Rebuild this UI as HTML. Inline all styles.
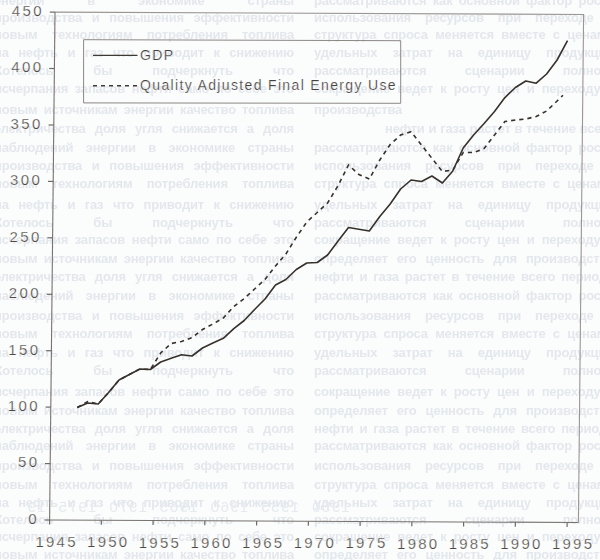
<!DOCTYPE html>
<html><head><meta charset="utf-8"><style>
html,body{margin:0;padding:0;background:#fbfcfc;}
body{width:600px;height:560px;overflow:hidden;position:relative;font-family:"Liberation Sans",sans-serif;}
svg{position:absolute;left:0;top:0;}
.mir{position:absolute;left:0px;top:498px;width:350px;font-size:15px;line-height:18px;letter-spacing:1.5px;color:#e6eaee;transform:scaleX(-1);white-space:nowrap;}
.r{position:absolute;height:18px;font-size:13px;line-height:18px;font-weight:bold;letter-spacing:-0.2px;color:#e4e8ed;overflow:hidden;filter:blur(0.5px);text-align-last:justify;text-align:justify;text-align-last:justify;}
.n{font-family:"Liberation Sans",sans-serif;font-size:15px;letter-spacing:2.4px;fill:#4d4843;stroke:#fbfcfc;stroke-width:0.25px;}
.m{font-family:"Liberation Sans",sans-serif;font-size:15px;letter-spacing:2.2px;fill:#4d4843;stroke:#fbfcfc;stroke-width:0.25px;}
.lg{font-family:"Liberation Sans",sans-serif;font-size:14px;letter-spacing:1.35px;fill:#46413c;stroke:#fbfcfc;stroke-width:0.2px;}
</style></head><body>
<div class="r" style="left:-6px;top:-8.1px;width:300px">энергии в экономике страны</div>
<div class="r" style="left:314px;top:-8.1px;width:300px">рассматриваются как основной фактор роста</div>
<div class="r" style="left:-6px;top:9.4px;width:300px">производства и повышения эффективности</div>
<div class="r" style="left:314px;top:9.4px;width:300px">использования ресурсов при переходе к</div>
<div class="r" style="left:-6px;top:26.4px;width:300px">новым технологиям потребления топлива</div>
<div class="r" style="left:314px;top:26.4px;width:300px">структура спроса меняется вместе с ценами</div>
<div class="r" style="left:-6px;top:43.9px;width:300px">на нефть и газ что приводит к снижению</div>
<div class="r" style="left:314px;top:43.9px;width:300px">удельных затрат на единицу продукции</div>
<div class="r" style="left:-6px;top:61.9px;width:300px">Хотелось бы подчеркнуть что</div>
<div class="r" style="left:314px;top:61.9px;width:300px">рассматриваются сценарии полного</div>
<div class="r" style="left:-6px;top:79.9px;width:300px">исчерпания запасов нефти само по себе это</div>
<div class="r" style="left:314px;top:79.9px;width:300px">сокращение ведет к росту цен и переходу к</div>
<div class="r" style="left:-6px;top:101.4px;width:300px">новым источникам энергии качество топлива</div>
<div class="r" style="left:314px;top:101.4px;width:116px">производства</div>
<div class="r" style="left:-6px;top:120.4px;width:300px">электричества доля угля снижается а доля</div>
<div class="r" style="left:385px;top:120.4px;width:229px">нефти и газа растет в течение всего периода</div>
<div class="r" style="left:-6px;top:138.6px;width:300px">наблюдений энергии в экономике страны</div>
<div class="r" style="left:314px;top:138.6px;width:300px">рассматриваются как основной фактор роста</div>
<div class="r" style="left:-6px;top:156.9px;width:300px">производства и повышения эффективности</div>
<div class="r" style="left:314px;top:156.9px;width:300px">использования ресурсов при переходе к</div>
<div class="r" style="left:-6px;top:174.9px;width:300px">новым технологиям потребления топлива</div>
<div class="r" style="left:314px;top:174.9px;width:300px">структура спроса меняется вместе с ценами</div>
<div class="r" style="left:-6px;top:195.9px;width:300px">на нефть и газ что приводит к снижению</div>
<div class="r" style="left:314px;top:195.9px;width:300px">удельных затрат на единицу продукции</div>
<div class="r" style="left:-6px;top:214.4px;width:300px">Хотелось бы подчеркнуть что</div>
<div class="r" style="left:314px;top:214.4px;width:300px">рассматриваются сценарии полного</div>
<div class="r" style="left:-6px;top:231.4px;width:300px">исчерпания запасов нефти само по себе это</div>
<div class="r" style="left:314px;top:231.4px;width:300px">сокращение ведет к росту цен и переходу к</div>
<div class="r" style="left:-6px;top:249.9px;width:300px">новым источникам энергии качество топлива</div>
<div class="r" style="left:314px;top:249.9px;width:300px">определяет его ценность для производства</div>
<div class="r" style="left:-6px;top:267.9px;width:300px">электричества доля угля снижается а доля</div>
<div class="r" style="left:314px;top:267.9px;width:300px">нефти и газа растет в течение всего периода</div>
<div class="r" style="left:-6px;top:287.2px;width:300px">наблюдений энергии в экономике страны</div>
<div class="r" style="left:314px;top:287.2px;width:300px">рассматриваются как основной фактор роста</div>
<div class="r" style="left:-6px;top:306.9px;width:300px">производства и повышения эффективности</div>
<div class="r" style="left:314px;top:306.9px;width:300px">использования ресурсов при переходе к</div>
<div class="r" style="left:-6px;top:324.9px;width:300px">новым технологиям потребления топлива</div>
<div class="r" style="left:314px;top:324.9px;width:300px">структура спроса меняется вместе с ценами</div>
<div class="r" style="left:-6px;top:344.4px;width:300px">на нефть и газ что приводит к снижению</div>
<div class="r" style="left:314px;top:344.4px;width:300px">удельных затрат на единицу продукции</div>
<div class="r" style="left:-6px;top:362.2px;width:300px">Хотелось бы подчеркнуть что</div>
<div class="r" style="left:314px;top:362.2px;width:300px">рассматриваются сценарии полного</div>
<div class="r" style="left:-6px;top:382.7px;width:300px">исчерпания запасов нефти само по себе это</div>
<div class="r" style="left:314px;top:382.7px;width:300px">сокращение ведет к росту цен и переходу к</div>
<div class="r" style="left:-6px;top:401.9px;width:300px">новым источникам энергии качество топлива</div>
<div class="r" style="left:314px;top:401.9px;width:300px">определяет его ценность для производства</div>
<div class="r" style="left:-6px;top:419.5px;width:300px">электричества доля угля снижается а доля</div>
<div class="r" style="left:314px;top:419.5px;width:300px">нефти и газа растет в течение всего периода</div>
<div class="r" style="left:-6px;top:437.2px;width:300px">наблюдений энергии в экономике страны</div>
<div class="r" style="left:314px;top:437.2px;width:300px">рассматриваются как основной фактор роста</div>
<div class="r" style="left:-6px;top:457.4px;width:300px">производства и повышения эффективности</div>
<div class="r" style="left:314px;top:457.4px;width:300px">использования ресурсов при переходе к</div>
<div class="r" style="left:-6px;top:475.9px;width:300px">новым технологиям потребления топлива</div>
<div class="r" style="left:314px;top:475.9px;width:300px">структура спроса меняется вместе с ценами</div>
<div class="r" style="left:-6px;top:494.4px;width:300px">на нефть и газ что приводит к снижению</div>
<div class="r" style="left:314px;top:494.4px;width:300px">удельных затрат на единицу продукции</div>
<div class="r" style="left:-6px;top:510.9px;width:300px">Хотелось бы подчеркнуть что</div>
<div class="r" style="left:314px;top:510.9px;width:300px">рассматриваются сценарии полного</div>
<div class="r" style="left:-6px;top:528.4px;width:300px">исчерпания запасов нефти само по себе это</div>
<div class="r" style="left:314px;top:528.4px;width:300px">сокращение ведет к росту цен и переходу к</div>
<div class="r" style="left:-6px;top:545.9px;width:300px">новым источникам энергии качество топлива</div>
<div class="r" style="left:314px;top:545.9px;width:300px">определяет его ценность для производства</div>
<div class="mir">1950&nbsp;&nbsp;1955&nbsp;&nbsp;1960&nbsp;&nbsp;1965&nbsp;&nbsp;1970&nbsp;&nbsp;1975&nbsp;&nbsp;19</div>
<svg width="600" height="560" viewBox="0 0 600 560">
<polyline points="55.0,12.1 583.6,14.5 578.4,522.5" fill="none" stroke="#9a9692" stroke-width="1.1"/>
<line x1="55.0" y1="12.1" x2="49.6" y2="520.0" stroke="#77726d" stroke-width="1.1"/>
<line x1="49.6" y1="520.0" x2="578.4" y2="522.5" stroke="#77726d" stroke-width="1.1"/>
<line x1="44.4" y1="520.0" x2="49.6" y2="520.0" stroke="#6e6a66" stroke-width="1.2"/>
<line x1="45.0" y1="463.6" x2="50.2" y2="463.6" stroke="#6e6a66" stroke-width="1.2"/>
<line x1="45.6" y1="407.1" x2="50.8" y2="407.1" stroke="#6e6a66" stroke-width="1.2"/>
<line x1="46.2" y1="350.7" x2="51.4" y2="350.7" stroke="#6e6a66" stroke-width="1.2"/>
<line x1="46.8" y1="294.3" x2="52.0" y2="294.3" stroke="#6e6a66" stroke-width="1.2"/>
<line x1="47.4" y1="237.8" x2="52.6" y2="237.8" stroke="#6e6a66" stroke-width="1.2"/>
<line x1="48.0" y1="181.4" x2="53.2" y2="181.4" stroke="#6e6a66" stroke-width="1.2"/>
<line x1="48.6" y1="125.0" x2="53.8" y2="125.0" stroke="#6e6a66" stroke-width="1.2"/>
<line x1="49.2" y1="68.5" x2="54.4" y2="68.5" stroke="#6e6a66" stroke-width="1.2"/>
<line x1="49.8" y1="12.1" x2="55.0" y2="12.1" stroke="#6e6a66" stroke-width="1.2"/>
<line x1="49.6" y1="520.0" x2="49.6" y2="524.6" stroke="#6e6a66" stroke-width="1.2"/>
<line x1="101.3" y1="520.2" x2="101.3" y2="524.8" stroke="#6e6a66" stroke-width="1.2"/>
<line x1="153.1" y1="520.5" x2="153.0" y2="525.1" stroke="#6e6a66" stroke-width="1.2"/>
<line x1="204.8" y1="520.7" x2="204.8" y2="525.3" stroke="#6e6a66" stroke-width="1.2"/>
<line x1="256.6" y1="521.0" x2="256.6" y2="525.6" stroke="#6e6a66" stroke-width="1.2"/>
<line x1="308.4" y1="521.2" x2="308.3" y2="525.8" stroke="#6e6a66" stroke-width="1.2"/>
<line x1="360.1" y1="521.5" x2="360.1" y2="526.1" stroke="#6e6a66" stroke-width="1.2"/>
<line x1="411.9" y1="521.7" x2="411.8" y2="526.3" stroke="#6e6a66" stroke-width="1.2"/>
<line x1="463.6" y1="522.0" x2="463.6" y2="526.6" stroke="#6e6a66" stroke-width="1.2"/>
<line x1="515.4" y1="522.2" x2="515.3" y2="526.8" stroke="#6e6a66" stroke-width="1.2"/>
<line x1="567.1" y1="522.4" x2="567.1" y2="527.0" stroke="#6e6a66" stroke-width="1.2"/>
<polygon points="83.6,39.7 400.7,40.7 400.7,103.3 83.6,102.9" fill="none" stroke="#8c8884" stroke-width="1"/>
<line x1="93" y1="55.3" x2="137.5" y2="55.3" stroke="#3e3934" stroke-width="1.3"/>
<line x1="93" y1="85.8" x2="137" y2="85.8" stroke="#3e3934" stroke-width="1.4" stroke-dasharray="4 4"/>
<polyline points="77.3,407.5 87.7,403.0 98.2,404.0 108.6,392.5 119.0,380.0 129.4,374.5 139.9,369.0 150.3,369.5 160.7,362.0 171.2,358.2 181.6,354.8 192.0,356.0 202.5,348.0 212.9,343.0 223.3,338.3 233.8,328.6 244.2,320.5 254.6,309.5 265.0,299.0 275.5,285.0 285.9,279.5 296.3,269.5 306.8,263.0 317.2,262.5 327.6,255.0 338.1,241.0 348.5,227.5 358.9,229.3 369.3,231.0 379.8,216.5 390.2,204.0 400.6,189.0 411.1,180.0 421.5,181.5 431.9,176.0 442.4,183.0 452.8,171.0 463.2,148.0 473.6,135.0 484.1,123.5 494.5,111.5 504.9,97.6 515.4,87.5 525.8,81.0 536.2,83.2 546.6,74.0 557.1,60.0 567.5,40.7" fill="none" stroke="#37312c" stroke-width="1.6" stroke-linejoin="round"/>
<polyline points="77.3,407.5 87.7,401.5 98.2,404.0 108.6,392.5 119.0,380.0 129.4,374.5 139.9,369.0 150.3,369.5 160.7,353.0 171.2,343.5 181.6,341.5 192.0,337.5 202.5,329.5 212.9,324.0 223.3,318.0 233.8,306.5 244.2,298.5 254.6,289.0 265.0,279.4 275.5,266.0 285.9,254.0 296.3,237.3 306.8,222.0 317.2,212.5 327.6,203.0 338.1,185.5 348.5,165.0 358.9,174.5 369.3,179.0 379.8,160.0 390.2,144.5 400.6,135.0 411.1,131.7 421.5,145.0 431.9,158.3 442.4,171.5 452.8,170.0 463.2,152.5 473.6,152.5 484.1,148.5 494.5,135.0 504.9,121.5 515.4,120.0 525.8,119.0 536.2,116.5 546.6,111.0 557.1,101.0 563,95.2" fill="none" stroke="#37312c" stroke-width="1.6" stroke-dasharray="4.2 4"/>
<text x="38.9" y="523.8" text-anchor="end" class="n">0</text>
<text x="39.5" y="467.4" text-anchor="end" class="n">50</text>
<text x="40.0" y="410.9" text-anchor="end" class="n">100</text>
<text x="40.6" y="354.5" text-anchor="end" class="n">150</text>
<text x="41.1" y="298.1" text-anchor="end" class="n">200</text>
<text x="41.7" y="241.6" text-anchor="end" class="n">250</text>
<text x="42.3" y="185.2" text-anchor="end" class="n">300</text>
<text x="42.8" y="128.8" text-anchor="end" class="n">350</text>
<text x="43.4" y="72.3" text-anchor="end" class="n">400</text>
<text x="43.9" y="15.9" text-anchor="end" class="n">450</text>
<text x="56.6" y="547.2" text-anchor="middle" class="m">1945</text>
<text x="108.2" y="547.4" text-anchor="middle" class="m">1950</text>
<text x="159.9" y="547.6" text-anchor="middle" class="m">1955</text>
<text x="211.5" y="547.8" text-anchor="middle" class="m">1960</text>
<text x="263.2" y="548.0" text-anchor="middle" class="m">1965</text>
<text x="314.9" y="548.2" text-anchor="middle" class="m">1970</text>
<text x="366.5" y="548.4" text-anchor="middle" class="m">1975</text>
<text x="418.2" y="548.6" text-anchor="middle" class="m">1980</text>
<text x="469.8" y="548.8" text-anchor="middle" class="m">1985</text>
<text x="521.4" y="549.0" text-anchor="middle" class="m">1990</text>
<text x="573.1" y="549.2" text-anchor="middle" class="m">1995</text>
<text x="140" y="59.6" class="lg">GDP</text>
<text x="140" y="90" class="lg">Quality Adjusted Final Energy Use</text>
</svg>
</body></html>
